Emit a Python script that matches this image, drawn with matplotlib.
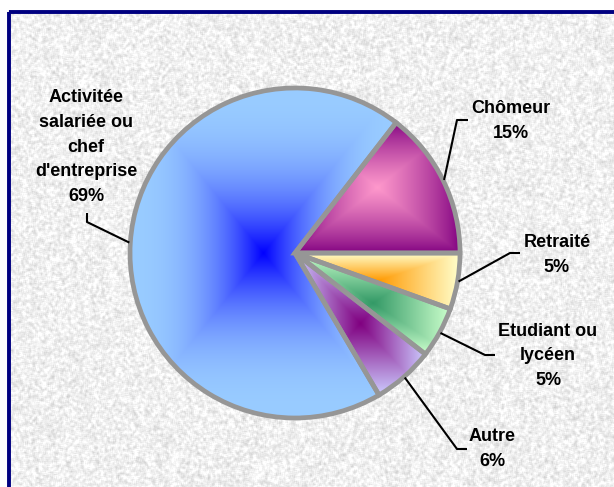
import numpy as np
import matplotlib
matplotlib.use('Agg')
import matplotlib.pyplot as plt
from matplotlib.colors import to_rgb
from matplotlib.patches import Rectangle

# slices, clockwise from 3 o'clock
labels = ['Retraité', 'Etudiant ou\nlycéen', 'Autre',
          "Activitée\nsalariée ou\nchef\nd'entreprise", 'Chômeur']
values = [5.5, 5.0, 6.0, 69.0, 14.5]
pct_labels = ['5%', '5%', '6%', '69%', '15%']
center_colors = ['#ff9900', '#339966', '#800080', '#0000ff', '#ff99cc']
edge_colors = ['#ffffcc', '#ccffcc', '#ccccff', '#99ccff', '#800080']
grad_ease = [1.0, 1.0, 1.0, 2.3, 0.8]   # >1: edge colour spreads inward

# label block centers and leader elbow / end (pixel layout)
label_pos = [(557, 255), (548, 356), (492, 449), (86, 147), (511, 121)]
elbows = [((510, 253), (520, 253)), ((485, 355), (495, 355)),
          ((457, 449), (467, 449)), ((87, 222), (87, 213)),
          ((457, 120), (468, 120))]

W, H = 614, 487
cx, cy, R = 295, 253, 165

fig = plt.figure(figsize=(W / 100, H / 100), dpi=100)
ax = fig.add_axes([0, 0, 1, 1])

# granite-like background
yy, xx = np.mgrid[0:H, 0:W].astype(float)
n = np.sin(xx * 12.9898 + yy * 78.233) * 43758.5453
n = n - np.floor(n)
sm = np.zeros_like(n)
for dx in (-1, 0, 1):
    for dy in (-1, 0, 1):
        sm += np.roll(np.roll(n, dx, axis=1), dy, axis=0)
sm /= 9.0
bg = np.clip(0.94 + (sm - 0.5) * 0.38, 0.78, 1.0)
bg[:10, :] = 1.0
bg[:, :8] = 1.0
ax.imshow(bg, cmap='gray', vmin=0, vmax=1, extent=(0, W, H, 0), zorder=0,
          interpolation='bilinear')
ax.add_patch(Rectangle((9, 11.5), W + 50, H + 50, fill=False,
                       edgecolor='#000080', lw=2.8, zorder=1))

wedges, _ = ax.pie(values, startangle=0, counterclock=True, center=(cx, cy),
                   radius=R, wedgeprops=dict(facecolor='none', edgecolor='#969696',
                                             linewidth=3.4))
for w in wedges:
    w.set_zorder(3)

# "from center" gradient fill for each slice
for w, c0, c1, ease in zip(wedges, center_colors, edge_colors, grad_ease):
    bb = w.get_path().get_extents()
    u = np.linspace(-1, 1, 300)
    U, V = np.meshgrid(u, u)
    t = np.maximum(np.abs(U), np.abs(V))
    t = (1 - (1 - t) ** ease)[..., None]
    img = np.array(to_rgb(c0)) * (1 - t) + np.array(to_rgb(c1)) * t
    im = ax.imshow(img, extent=(bb.x0, bb.x1, bb.y1, bb.y0), zorder=2,
                   interpolation='bilinear')
    im.set_clip_path(w)

# labels and leader lines
for w, lab, pct, (tx, ty), (el, en) in zip(wedges, labels, pct_labels, label_pos, elbows):
    ang = np.deg2rad((w.theta1 + w.theta2) / 2)
    ax0 = cx + (R + 1) * np.cos(ang)
    ay0 = cy + (R + 1) * np.sin(ang)
    ax.plot([ax0, el[0], en[0]], [ay0, el[1], en[1]], color='black', lw=1.5,
            zorder=4, solid_capstyle='butt')
    ax.text(tx, ty, lab + '\n' + pct, ha='center', va='center', fontsize=13,
            fontweight='bold', family='Liberation Sans', linespacing=1.58, zorder=5)

ax.set_xlim(0, W)
ax.set_ylim(H, 0)
ax.set_aspect('auto')
ax.axis('off')
fig.savefig('out.png', dpi=100)
